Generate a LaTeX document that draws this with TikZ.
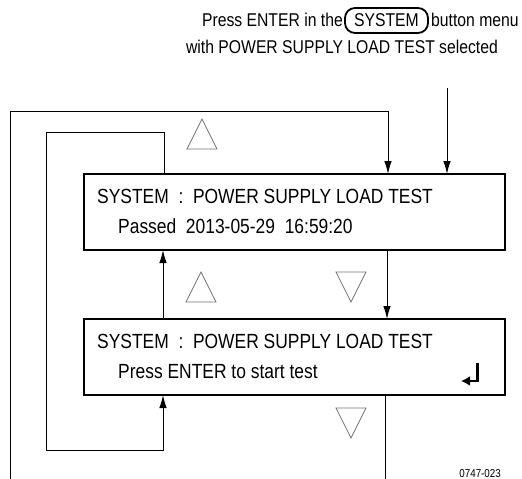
\documentclass[tikz,border=0pt]{standalone}
\usepackage{fontspec}
\setmainfont{Liberation Sans}
\newfontfamily\narrowfont[FakeStretch=0.85]{Liberation Sans}
\usetikzlibrary{arrows.meta,positioning,shapes.misc}
\begin{document}
\begin{tikzpicture}[x=1pt,y=-1pt,
  screen/.style={draw,line width=2pt},
  scrtext/.style={anchor=base west,inner sep=0pt,font=\narrowfont\fontsize{20.5}{24}\selectfont},
  toptext/.style={inner sep=0pt,font=\narrowfont\fontsize{18.5}{22}\selectfont},
  conn/.style={line width=1pt,-{Latex[length=13pt,width=7.5pt]}},
  plain/.style={line width=1pt},
  tri/.style={draw=black!55,line width=0.7pt},
  btn/.style={draw,line width=1.8pt,rounded corners=10pt,minimum width=83pt,minimum height=25pt,inner sep=0pt}
]
\useasboundingbox (0,0) rectangle (522,479);
% screens
\draw[screen] (84,174) rectangle (505,250);
\draw[screen] (84,319) rectangle (505,395);
\node[scrtext] (s1a) at (97,203) {SYSTEM\ \ :\ \ POWER SUPPLY LOAD TEST};
\node[scrtext] (s1b) at (118,233) {Passed\ \ 2013-05-29\ \ 16:59:20};
\node[scrtext] (s2a) at (97,348) {SYSTEM\ \ :\ \ POWER SUPPLY LOAD TEST};
\node[scrtext] (s2b) at (118,378) {Press ENTER to start test};
% return symbol
\coordinate (r1) at (477.5,363);
\coordinate (r2) at (477.5,381);
\coordinate (r3) at (461,381);
\draw[line width=2.4pt,-{Latex[length=9pt,width=10pt]}] (r1) -- (r2) -- (r3);
% header
\node[btn,font=\narrowfont\fontsize{18.5}{22}\selectfont] (sys) at (386.5,20.5) {SYSTEM};
\node[toptext,anchor=base east] (h1) at (343,27) {Press ENTER in the};
\node[toptext,anchor=base west] (h2) at (431,27) {button menu};
\node[toptext,anchor=base east] (h3) at (498,53) {with POWER SUPPLY LOAD TEST selected};
% connectors
\coordinate (e0) at (447,88);
\coordinate (e1) at (447,174);
\draw[conn] (e0) -- (e1);
\coordinate (o0) at (10,479);
\coordinate (o1) at (10,111);
\coordinate (o2) at (388,111);
\coordinate (o3) at (388,174);
\draw[conn] (o0) -- (o1) -- (o2) -- (o3);
\coordinate (d0) at (387,250);
\coordinate (d1) at (387,319);
\draw[conn] (d0) -- (d1);
\coordinate (u0) at (163,319);
\coordinate (u1) at (163,250);
\draw[conn] (u0) -- (u1);
\coordinate (i0) at (164,174);
\coordinate (i1) at (164,132);
\coordinate (i2) at (46,132);
\coordinate (i3) at (46,450);
\coordinate (i4) at (163,450);
\coordinate (i5) at (163,395);
\draw[conn] (i0) -- (i1) -- (i2) -- (i3) -- (i4) -- (i5);
\coordinate (x0) at (385,395);
\coordinate (x1) at (385,479);
\draw[plain] (x0) -- (x1);
% triangles
\draw[tri] (187,149) -- (217,149) -- (202,119) -- cycle;
\draw[tri] (186,302) -- (216,302) -- (201,272) -- cycle;
\draw[tri] (336,272) -- (366,272) -- (351,302) -- cycle;
\draw[tri] (336,408) -- (366,408) -- (351,438) -- cycle;
% figure number
\node[inner sep=0pt,anchor=base east,font=\narrowfont\fontsize{11.5}{13}\selectfont] (fig) at (501,477) {0747-023};
\end{tikzpicture}
\end{document}
